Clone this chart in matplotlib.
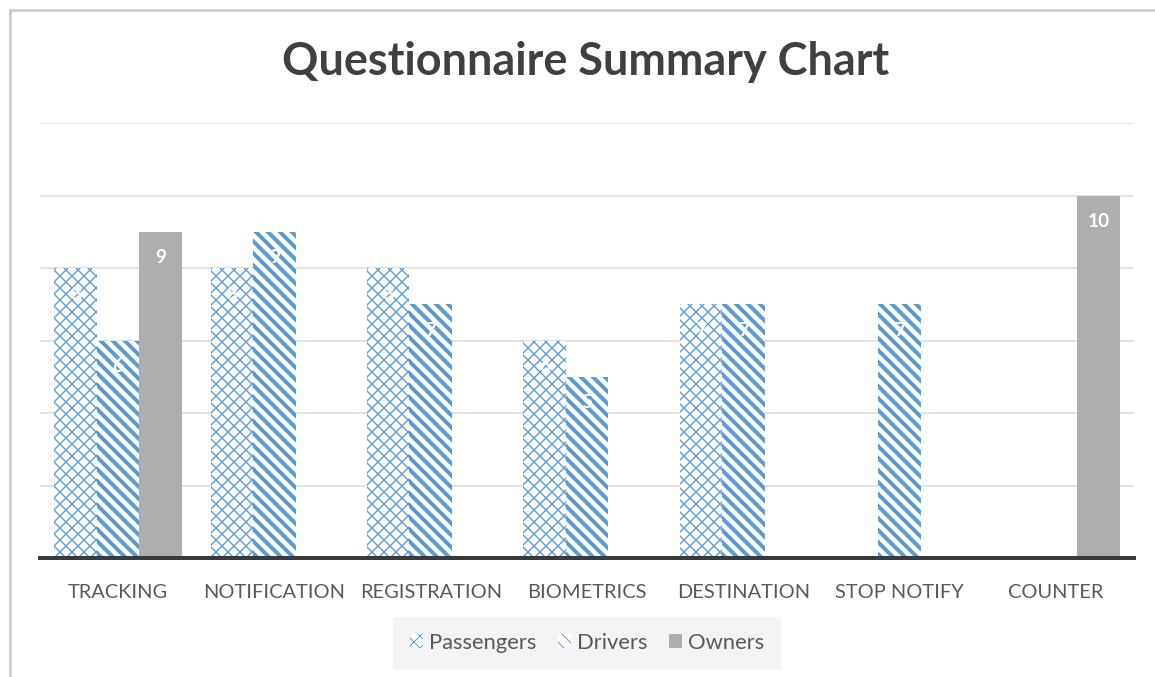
import matplotlib
matplotlib.use("Agg")
import matplotlib.pyplot as plt
import numpy as np
from matplotlib.lines import Line2D

categories = ["TRACKING", "NOTIFICATION", "REGISTRATION", "BIOMETRICS",
              "DESTINATION", "STOP NOTIFY", "COUNTER"]
passengers = [8, 8, 8, 6, 7, 0, 0]
drivers = [6, 9, 7, 5, 7, 7, 0]
owners = [9, 0, 0, 0, 0, 0, 10]
series_names = ["Passengers", "Drivers", "Owners"]

BLUE = "#5B9BD5"
GREY = "#AEAEAE"
plt.rcParams["font.family"] = ["Lato", "DejaVu Sans"]

# dpi 72: 1 pt == 1 px
DPI = 72
fig = plt.figure(figsize=(1155 / DPI, 677 / DPI), dpi=DPI)
ax = fig.add_axes([40 / 1155, 1 - 558 / 677, 1094 / 1155, 435 / 677])

x = np.arange(len(categories))
w = 0.272

with plt.rc_context({"hatch.linewidth": 1.4}):
    b1 = ax.bar(x - w, passengers, w, color="white", edgecolor=BLUE, lw=0,
                hatch="xx", label=series_names[0], zorder=2)
with plt.rc_context({"hatch.linewidth": 4.0}):
    b2 = ax.bar(x, drivers, w, color="white", edgecolor=BLUE, lw=0,
                hatch="\\\\", label=series_names[1], zorder=2)
b3 = ax.bar(x + w, owners, w, color=GREY, lw=0, label=series_names[2], zorder=2)

for bars, vals in zip([b1, b2, b3], [passengers, drivers, owners]):
    for r, v in zip(bars, vals):
        if v:
            ax.text(r.get_x() + r.get_width() / 2, v - 0.72, str(v), ha="center",
                    va="center", color="white", fontsize=19, weight="bold", zorder=3)

ax.set_xlim(-0.5, len(categories) - 0.5)
ax.set_ylim(0, 12)
ax.set_yticks([2, 4, 6, 8, 10, 12])
ax.yaxis.grid(True, color="#D9D9D9", lw=1.5, zorder=0)
ax.set_axisbelow(True)
ax.tick_params(axis="y", left=False, labelleft=False)
ax.tick_params(axis="x", length=0, pad=26, labelsize=20, labelcolor="#595959")
ax.set_xticks(x)
ax.set_xticklabels(categories)
for s in ["top", "right", "left"]:
    ax.spines[s].set_visible(False)
ax.spines["bottom"].set_color("#3A3A3A")
ax.spines["bottom"].set_linewidth(4)
ax.spines["bottom"].set_zorder(4)

fig.text(586 / 1155, 1 - 62 / 677, "Questionnaire Summary Chart", ha="center",
         va="center", fontsize=45, weight="bold", color="#404040")

leg = fig.legend(handles=[b1, b2, b3], labels=series_names, loc="center",
                 bbox_to_anchor=(587 / 1155, 1 - 643 / 677), ncol=3,
                 frameon=True, fontsize=22, handlelength=0.6, handleheight=0.6,
                 handletextpad=0.25, columnspacing=1.0, borderpad=0.45,
                 borderaxespad=0)
leg.get_frame().set_facecolor("#F2F2F2")
leg.get_frame().set_edgecolor("none")
leg.get_frame().set_boxstyle("square", pad=0.3)
for t in leg.get_texts():
    t.set_color("#595959")

# outer frame
fig.add_artist(Line2D([10 / 1155, 1], [1 - 10 / 677] * 2, color="#C8C8C8", lw=2.5,
                      transform=fig.transFigure))
fig.add_artist(Line2D([10 / 1155] * 2, [0, 1 - 10 / 677], color="#C8C8C8", lw=2.5,
                      transform=fig.transFigure))

fig.savefig("out.png", dpi=DPI, facecolor="white")
